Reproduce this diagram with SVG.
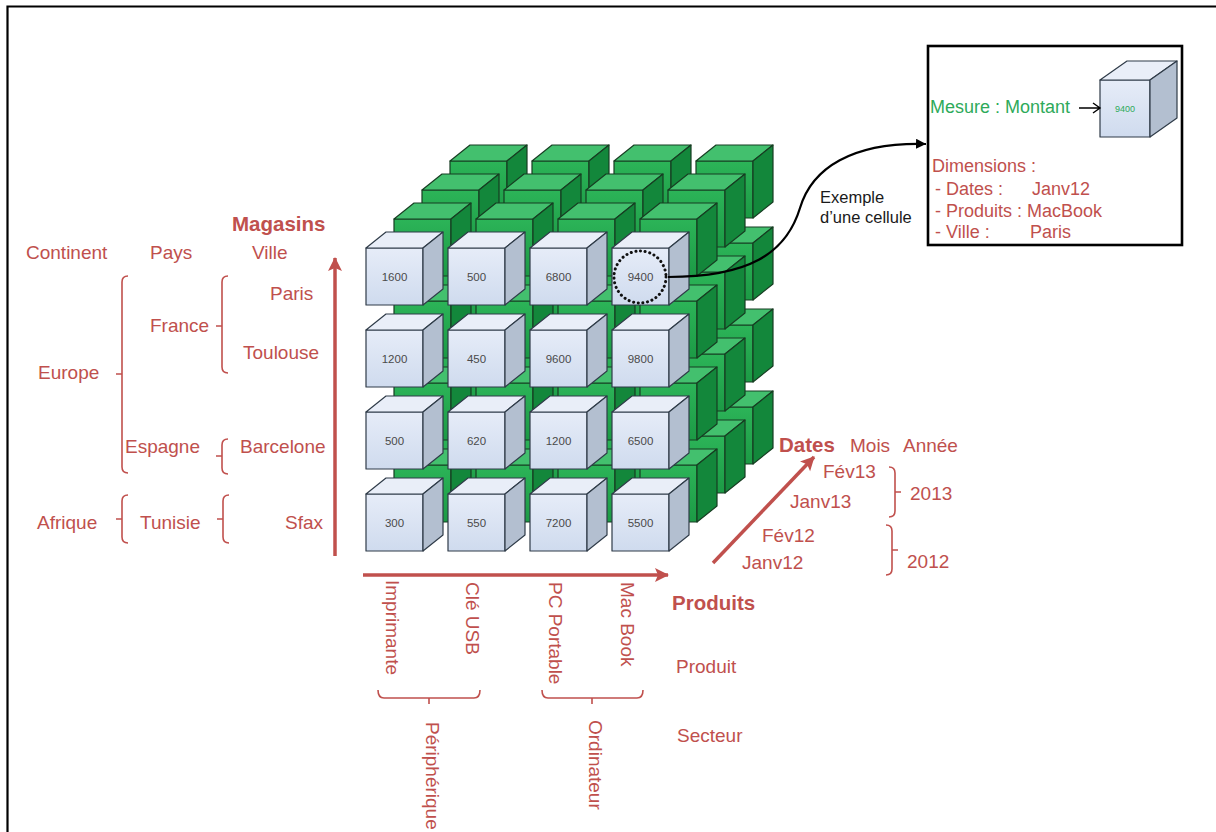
<svg xmlns="http://www.w3.org/2000/svg" xmlns:xlink="http://www.w3.org/1999/xlink" width="1216" height="832" viewBox="0 0 1216 832">
  <style>
    text { font-family: "Liberation Sans", Arial, sans-serif; }
    .lbl { font-size: 19px; fill: #c0504d; }
    .bold { font-size: 20.5px; font-weight: bold; fill: #c0504d; }
    .val { font-size: 11.5px; fill: #4a4a4a; text-anchor: middle; }
    .note { font-size: 16.5px; fill: #1a1a1a; }
    .inset { font-size: 18px; fill: #c0504d; }
    .measure { font-size: 18px; fill: #2eaa5a; }
    .axis { stroke: #c0504d; stroke-width: 3.5; fill: none; }
    .brace { stroke: #c0504d; stroke-width: 1.6; fill: none; }
    .bf { fill: url(#gBlueFront); stroke: #2f3b48; stroke-width: 1.2; stroke-linejoin: round; }
    .bt { fill: #e9eef8; stroke: #2f3b48; stroke-width: 1.2; stroke-linejoin: round; }
    .bs { fill: #b3bfd0; stroke: #2f3b48; stroke-width: 1.2; stroke-linejoin: round; }
    .gf { fill: url(#gGreenFront); stroke: #173d22; stroke-width: 1.2; stroke-linejoin: round; }
    .gt { fill: #43c06e; stroke: #173d22; stroke-width: 1.2; stroke-linejoin: round; }
    .gs { fill: #13873b; stroke: #173d22; stroke-width: 1.2; stroke-linejoin: round; }
  </style>
  <defs>
    <linearGradient id="gBlueFront" x1="0" y1="0" x2="0" y2="1">
      <stop offset="0" stop-color="#e6ecf8"/>
      <stop offset="1" stop-color="#cfdbee"/>
    </linearGradient>
    <linearGradient id="gGreenFront" x1="0" y1="0" x2="0" y2="1">
      <stop offset="0" stop-color="#2cb458"/>
      <stop offset="1" stop-color="#1c9a45"/>
    </linearGradient>
    <!-- unit cube: front face 57x57, receding edge (20,-16) -->
    <g id="cubeBlue">
      <path class="bf" d="M0 0H57V57H0Z"/>
      <path class="bt" d="M0 0L20 -16H77L57 0Z"/>
      <path class="bs" d="M57 0L77 -16V41L57 57Z"/>
    </g>
    <g id="cubeGreen">
      <path class="gf" d="M0 0H57V57H0Z"/>
      <path class="gt" d="M0 0L20 -16H77L57 0Z"/>
      <path class="gs" d="M57 0L77 -16V41L57 57Z"/>
    </g>
    <marker id="arrRed" markerUnits="userSpaceOnUse" markerWidth="16" markerHeight="16" refX="13" refY="7" orient="auto">
      <path d="M0 0L14 7L0 14L3 7Z" fill="#c0504d"/>
    </marker>
    <marker id="arrBlack" markerUnits="userSpaceOnUse" markerWidth="12" markerHeight="12" refX="10" refY="5" orient="auto">
      <path d="M0 0L10 5L0 10Z" fill="#000"/>
    </marker>
  </defs>

  <rect width="1216" height="832" fill="#fff"/>
  <!-- outer frame (top and left edges) -->
  <path d="M7.5 832V6.5H1216" fill="none" stroke="#000" stroke-width="2.2"/>

  <!-- back layers of the data cube -->
  <g id="layer-d3">
    <use href="#cubeGreen" x="450" y="161"/><use href="#cubeGreen" x="532" y="161"/><use href="#cubeGreen" x="614" y="161"/><use href="#cubeGreen" x="696" y="161"/>
    <use href="#cubeGreen" x="450" y="243"/><use href="#cubeGreen" x="532" y="243"/><use href="#cubeGreen" x="614" y="243"/><use href="#cubeGreen" x="696" y="243"/>
    <use href="#cubeGreen" x="450" y="325"/><use href="#cubeGreen" x="532" y="325"/><use href="#cubeGreen" x="614" y="325"/><use href="#cubeGreen" x="696" y="325"/>
    <use href="#cubeGreen" x="450" y="407"/><use href="#cubeGreen" x="532" y="407"/><use href="#cubeGreen" x="614" y="407"/><use href="#cubeGreen" x="696" y="407"/>
  </g>
  <g id="layer-d2">
    <use href="#cubeGreen" x="422" y="190"/><use href="#cubeGreen" x="504" y="190"/><use href="#cubeGreen" x="586" y="190"/><use href="#cubeGreen" x="668" y="190"/>
    <use href="#cubeGreen" x="422" y="272"/><use href="#cubeGreen" x="504" y="272"/><use href="#cubeGreen" x="586" y="272"/><use href="#cubeGreen" x="668" y="272"/>
    <use href="#cubeGreen" x="422" y="354"/><use href="#cubeGreen" x="504" y="354"/><use href="#cubeGreen" x="586" y="354"/><use href="#cubeGreen" x="668" y="354"/>
    <use href="#cubeGreen" x="422" y="436"/><use href="#cubeGreen" x="504" y="436"/><use href="#cubeGreen" x="586" y="436"/><use href="#cubeGreen" x="668" y="436"/>
  </g>
  <g id="layer-d1">
    <use href="#cubeGreen" x="394" y="219"/><use href="#cubeGreen" x="476" y="219"/><use href="#cubeGreen" x="558" y="219"/><use href="#cubeGreen" x="640" y="219"/>
    <use href="#cubeGreen" x="394" y="301"/><use href="#cubeGreen" x="476" y="301"/><use href="#cubeGreen" x="558" y="301"/><use href="#cubeGreen" x="640" y="301"/>
    <use href="#cubeGreen" x="394" y="383"/><use href="#cubeGreen" x="476" y="383"/><use href="#cubeGreen" x="558" y="383"/><use href="#cubeGreen" x="640" y="383"/>
    <use href="#cubeGreen" x="394" y="465"/><use href="#cubeGreen" x="476" y="465"/><use href="#cubeGreen" x="558" y="465"/><use href="#cubeGreen" x="640" y="465"/>
  </g>

  <!-- front layer: cells with their values -->
  <g id="cell-r0c0"><use href="#cubeBlue" x="366" y="248"/><text class="val" x="394.5" y="281">1600</text></g>
  <g id="cell-r0c1"><use href="#cubeBlue" x="448" y="248"/><text class="val" x="476.5" y="281">500</text></g>
  <g id="cell-r0c2"><use href="#cubeBlue" x="530" y="248"/><text class="val" x="558.5" y="281">6800</text></g>
  <g id="cell-r0c3"><use href="#cubeBlue" x="612" y="248"/><text class="val" x="640.5" y="281">9400</text>
    <circle cx="640" cy="277" r="26" fill="none" stroke="#111" stroke-width="3" stroke-dasharray="0.1 4.6" stroke-linecap="round"/></g>
  <g id="cell-r1c0"><use href="#cubeBlue" x="366" y="330"/><text class="val" x="394.5" y="363">1200</text></g>
  <g id="cell-r1c1"><use href="#cubeBlue" x="448" y="330"/><text class="val" x="476.5" y="363">450</text></g>
  <g id="cell-r1c2"><use href="#cubeBlue" x="530" y="330"/><text class="val" x="558.5" y="363">9600</text></g>
  <g id="cell-r1c3"><use href="#cubeBlue" x="612" y="330"/><text class="val" x="640.5" y="363">9800</text></g>
  <g id="cell-r2c0"><use href="#cubeBlue" x="366" y="412"/><text class="val" x="394.5" y="445">500</text></g>
  <g id="cell-r2c1"><use href="#cubeBlue" x="448" y="412"/><text class="val" x="476.5" y="445">620</text></g>
  <g id="cell-r2c2"><use href="#cubeBlue" x="530" y="412"/><text class="val" x="558.5" y="445">1200</text></g>
  <g id="cell-r2c3"><use href="#cubeBlue" x="612" y="412"/><text class="val" x="640.5" y="445">6500</text></g>
  <g id="cell-r3c0"><use href="#cubeBlue" x="366" y="494"/><text class="val" x="394.5" y="527">300</text></g>
  <g id="cell-r3c1"><use href="#cubeBlue" x="448" y="494"/><text class="val" x="476.5" y="527">550</text></g>
  <g id="cell-r3c2"><use href="#cubeBlue" x="530" y="494"/><text class="val" x="558.5" y="527">7200</text></g>
  <g id="cell-r3c3"><use href="#cubeBlue" x="612" y="494"/><text class="val" x="640.5" y="527">5500</text></g>

  <!-- axes and callout connector -->
  <g id="connectors">
    <path class="axis" d="M335 556V258" marker-end="url(#arrRed)"/>
    <path class="axis" d="M363 575H668" marker-end="url(#arrRed)"/>
    <path class="axis" d="M713 563L814 457" marker-end="url(#arrRed)"/>
    <path d="M668 277C748 277 786 254 800 208C812 168 852 142 926 144" fill="none" stroke="#000" stroke-width="2.2" marker-end="url(#arrBlack)"/>
  </g>

  <!-- Magasins dimension (store hierarchy) -->
  <g id="dim-magasins">
    <text class="bold" x="232" y="231">Magasins</text>
    <text class="lbl" x="26" y="259">Continent</text>
    <text class="lbl" x="150" y="259">Pays</text>
    <text class="lbl" x="252" y="259">Ville</text>
    <text class="lbl" x="270" y="300">Paris</text>
    <text class="lbl" x="243" y="359">Toulouse</text>
    <text class="lbl" x="240" y="453">Barcelone</text>
    <text class="lbl" x="285" y="529">Sfax</text>
    <text class="lbl" x="150" y="332">France</text>
    <text class="lbl" x="125" y="453">Espagne</text>
    <text class="lbl" x="140" y="529">Tunisie</text>
    <text class="lbl" x="38" y="379">Europe</text>
    <text class="lbl" x="37" y="529">Afrique</text>
    <path class="brace" d="M128 276Q122 276 122 282V467Q122 473 128 473M122 374H116"/>
    <path class="brace" d="M228 276Q222 276 222 282V367Q222 373 228 373M222 326H216"/>
    <path class="brace" d="M228 439Q222 439 222 445V468Q222 474 228 474M222 456H216"/>
    <path class="brace" d="M128 495Q122 495 122 501V537Q122 543 128 543M122 519H116"/>
    <path class="brace" d="M229 495Q223 495 223 501V537Q223 543 229 543M223 519H217"/>
  </g>

  <!-- Produits dimension (product hierarchy) -->
  <g id="dim-produits">
    <text class="bold" x="672" y="610">Produits</text>
    <text class="lbl" x="676" y="673">Produit</text>
    <text class="lbl" x="677" y="742">Secteur</text>
    <text class="lbl" transform="translate(386 580) rotate(90)">Imprimante</text>
    <text class="lbl" transform="translate(466 582) rotate(90)">Clé USB</text>
    <text class="lbl" transform="translate(549 582) rotate(90)">PC Portable</text>
    <text class="lbl" transform="translate(621 582) rotate(90)">Mac Book</text>
    <text class="lbl" transform="translate(426 722) rotate(90)">Périphérique</text>
    <text class="lbl" transform="translate(589 720) rotate(90)">Ordinateur</text>
    <path class="brace" d="M378 690Q378 698 384 698H474Q480 698 480 690M429 698V704"/>
    <path class="brace" d="M542 690Q542 698 548 698H637Q643 698 643 690M592 698V704"/>
  </g>

  <!-- Dates dimension (time hierarchy) -->
  <g id="dim-dates">
    <text class="bold" x="779" y="452">Dates</text>
    <text class="lbl" x="850" y="452">Mois</text>
    <text class="lbl" x="903" y="452">Année</text>
    <text class="lbl" x="823" y="478">Fév13</text>
    <text class="lbl" x="790" y="508">Janv13</text>
    <text class="lbl" x="762" y="542">Fév12</text>
    <text class="lbl" x="742" y="569">Janv12</text>
    <text class="lbl" x="910" y="500">2013</text>
    <text class="lbl" x="907" y="568">2012</text>
    <path class="brace" d="M889 467Q895 467 895 473V511Q895 517 889 517M895 492H901"/>
    <path class="brace" d="M886 525Q892 525 892 531V569Q892 575 886 575M892 550H898"/>
  </g>

  <!-- callout text -->
  <g id="callout-label">
    <text class="note" x="820" y="203">Exemple</text>
    <text class="note" x="820" y="223">d’une cellule</text>
  </g>

  <!-- detail of a single cell -->
  <g id="cell-detail">
    <rect x="928" y="46" width="254" height="199" fill="#fff" stroke="#000" stroke-width="2.6"/>
    <path class="bf" d="M1100 80H1150V137H1100Z"/>
    <path class="bt" d="M1100 80L1127 61H1177L1150 80Z"/>
    <path class="bs" d="M1150 80L1177 61V118L1150 137Z"/>
    <text x="1125" y="112" font-size="9px" fill="#2eaa5a" text-anchor="middle">9400</text>
    <text class="measure" x="930" y="113">Mesure : Montant</text>
    <path d="M1079 108H1100M1093 103L1100 108L1093 113" fill="none" stroke="#000" stroke-width="1.4"/>
    <text class="inset" x="932" y="172">Dimensions :</text>
    <text class="inset" x="935" y="195">- Dates :</text>
    <text class="inset" x="1032" y="195">Janv12</text>
    <text class="inset" x="935" y="217">- Produits : MacBook</text>
    <text class="inset" x="935" y="238">- Ville :</text>
    <text class="inset" x="1030" y="238">Paris</text>
  </g>
</svg>
